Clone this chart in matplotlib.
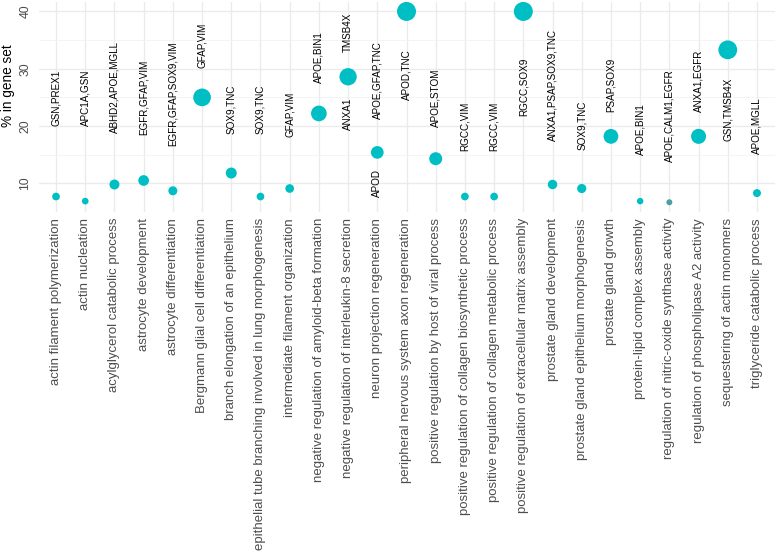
import matplotlib
matplotlib.use("Agg")
import matplotlib.pyplot as plt
from matplotlib.ticker import MultipleLocator

plt.rcParams['font.family'] = ['Liberation Sans', 'DejaVu Sans']

terms = [
    "actin filament polymerization",
    "actin nucleation",
    "acylglycerol catabolic process",
    "astrocyte development",
    "astrocyte differentiation",
    "Bergmann glial cell differentiation",
    "branch elongation of an epithelium",
    "epithelial tube branching involved in lung morphogenesis",
    "intermediate filament organization",
    "negative regulation of amyloid-beta formation",
    "negative regulation of interleukin-8 secretion",
    "neuron projection regeneration",
    "peripheral nervous system axon regeneration",
    "positive regulation by host of viral process",
    "positive regulation of collagen biosynthetic process",
    "positive regulation of collagen metabolic process",
    "positive regulation of extracellular matrix assembly",
    "prostate gland development",
    "prostate gland epithelium morphogenesis",
    "prostate gland growth",
    "protein-lipid complex assembly",
    "regulation of nitric-oxide synthase activity",
    "regulation of phospholipase A2 activity",
    "sequestering of actin monomers",
    "triglyceride catabolic process",
]

pct_in_set = [7.7, 6.9, 9.8, 10.5, 8.7, 25.0, 11.8, 7.7, 9.1, 22.2, 28.6, 15.4,
              40.0, 14.3, 7.7, 7.7, 40.0, 9.8, 9.1, 18.2, 6.9, 6.7, 18.2, 33.3, 8.3]

# size aesthetic
size_score = [7.7, 6.7, 10.0, 10.7, 9.0, 17.7, 11.0, 7.7, 8.7, 15.7, 17.3, 12.7,
              19.0, 13.0, 7.7, 7.7, 19.0, 9.5, 9.2, 14.8, 6.5, 6.0, 15.0, 18.8, 8.0]

gene_labels = [
    ["GSN,PREX1"], ["APC1A,GSN"], ["ABHD2,APOE,MGLL"], ["EGFR,GFAP,VIM"],
    ["EGFR,GFAP,SOX9,VIM"], ["GFAP,VIM"], ["SOX9,TNC"], ["SOX9,TNC"], ["GFAP,VIM"],
    ["APOE,BIN1"], ["ANXA1", "TMSB4X"], ["APOD", "APOE,GFAP,TNC"], ["APOD,TNC"],
    ["APOE,STOM"], ["RGCC,VIM"], ["RGCC,VIM"], ["RGCC,SOX9"], ["ANXA1,PSAP,SOX9,TNC"],
    ["SOX9,TNC"], ["PSAP,SOX9"], ["APOE,BIN1"], ["APOE,CALM1,EGFR"], ["ANXA1,EGFR"],
    ["GSN,TMSB4X"], ["APOE,MGLL"],
]

# label centres (repelled positions)
label_y = [
    [25.0], [24.9], [26.9], [25.0], [25.7], [34.0], [23.0], [23.0], [22.1],
    [32.0], [22.1, 36.3], [10.0, 28.0], [29.0], [25.0], [20.0], [20.0], [26.9],
    [27.1], [20.1], [27.2], [19.5], [21.9], [27.9], [23.0], [20.1],
]

W, H = 777, 555
fig = plt.figure(figsize=(W / 100, H / 100), dpi=100)
ax = fig.add_axes([38.5 / W, 1 - 212 / H, 736 / W, 210.3 / H])

x = list(range(len(terms)))
colors = ['#00BFC4'] * len(terms)
colors[21] = '#4E9EA3'
sizes = [(d * 0.72) ** 2 for d in size_score]
ax.scatter(x, pct_in_set, s=sizes, c=colors, linewidths=0, zorder=3, clip_on=False)

for i, (texts, ys) in enumerate(zip(gene_labels, label_y)):
    for t, yy in zip(texts, ys):
        ax.text(i, yy, t, rotation=90, ha='center', va='center', fontsize=7.1,
                color='black', zorder=4)

ax.set_xlim(-0.6, len(terms) - 0.4)
ax.set_ylim(5.0, 41.7)
ax.set_xticks(x)
ax.set_xticklabels(terms, rotation=90, fontsize=9.5, color='#4D4D4D')
ax.yaxis.set_major_locator(MultipleLocator(10))
ax.yaxis.set_minor_locator(MultipleLocator(5))
plt.setp(ax.get_yticklabels(), rotation=90, va='center', fontsize=8.8, color='#4D4D4D')
ax.tick_params(axis='both', which='both', length=0)
ax.tick_params(axis='x', pad=4.3)
ax.tick_params(axis='y', pad=5)

ax.grid(True, which='major', color='#EBEBEB', linewidth=1.0, zorder=0)
ax.grid(True, which='minor', axis='y', color='#F0F0F0', linewidth=0.5, zorder=0)
ax.set_axisbelow(True)
for s in ax.spines.values():
    s.set_visible(False)

ax.set_ylabel('% in gene set', fontsize=9.8, color='black')
ax.yaxis.set_label_coords(-0.032, 0.6)

fig.savefig('out.png', dpi=100)
